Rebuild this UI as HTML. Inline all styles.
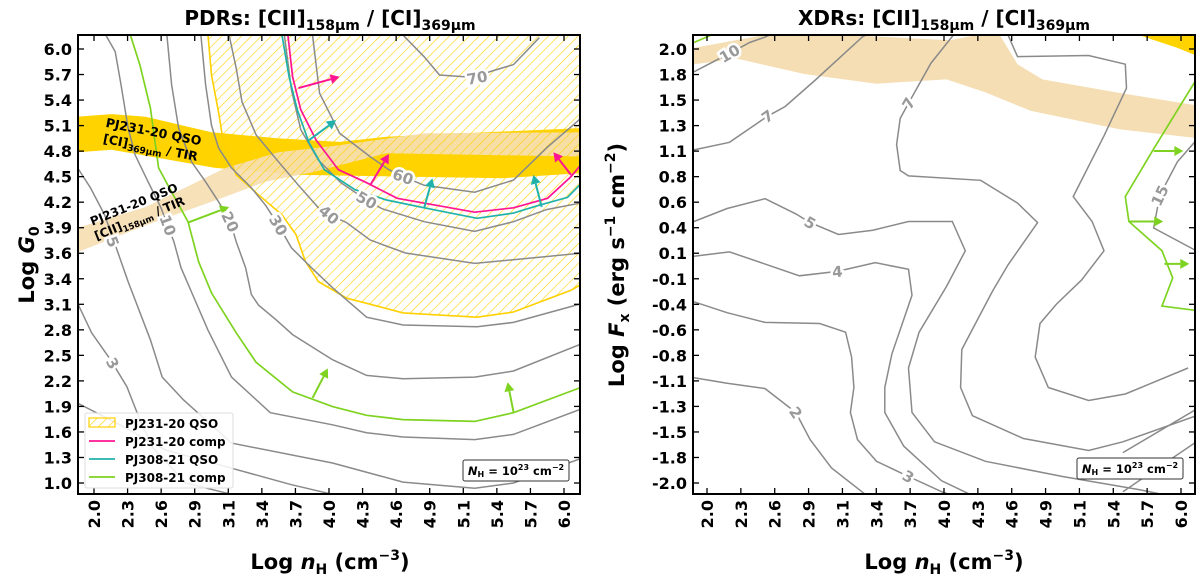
<!DOCTYPE html>
<html><head><meta charset="utf-8">
<style>
html,body{margin:0;padding:0;background:#fff;}
svg{display:block;font-family:"DejaVu Sans","Liberation Sans",sans-serif;font-weight:bold;}
</style></head>
<body>
<svg id="fig" width="1200" height="579" viewBox="0 0 1200 579" xmlns="http://www.w3.org/2000/svg">
<defs>
<pattern id="hatch" patternUnits="userSpaceOnUse" width="7" height="7" patternTransform="rotate(45)">
<line x1="0" y1="0" x2="0" y2="7" stroke="#FFD000" stroke-width="1.2"/>
</pattern>
<clipPath id="clipL"><rect x="78" y="35" width="502" height="459"/></clipPath>
<clipPath id="clipR"><rect x="693" y="35" width="502" height="459"/></clipPath>
</defs>
<text x="330" y="25" font-size="20" text-anchor="middle">PDRs: [CII]<tspan font-size="14" dy="5">158μm</tspan><tspan dy="-5"> / [CI]</tspan><tspan font-size="14" dy="5">369μm</tspan></text>
<text x="944" y="25" font-size="20" text-anchor="middle">XDRs: [CII]<tspan font-size="14" dy="5">158μm</tspan><tspan dy="-5"> / [CI]</tspan><tspan font-size="14" dy="5">369μm</tspan></text>
<g id="gL" clip-path="url(#clipL)"></g>
<g id="gR" clip-path="url(#clipR)"></g>
<g id="axes"></g>
<text transform="translate(34,265) rotate(-90)" font-size="21" text-anchor="middle">Log <tspan font-style="italic">G</tspan><tspan font-size="14" dy="5">0</tspan></text>
<text x="330" y="569" font-size="21" text-anchor="middle">Log <tspan font-style="italic">n</tspan><tspan font-size="14" dy="5">H</tspan><tspan dy="-5"> (cm</tspan><tspan font-size="14" dy="-9">−3</tspan><tspan dy="9">)</tspan></text>
<text x="944" y="569" font-size="21" text-anchor="middle">Log <tspan font-style="italic">n</tspan><tspan font-size="14" dy="5">H</tspan><tspan dy="-5"> (cm</tspan><tspan font-size="14" dy="-9">−3</tspan><tspan dy="9">)</tspan></text>
<text transform="translate(624,265) rotate(-90)" font-size="21" text-anchor="middle">Log <tspan font-style="italic">F</tspan><tspan font-size="14" dy="5">x</tspan><tspan dy="-5"> (erg s</tspan><tspan font-size="14" dy="-9">−1</tspan><tspan dy="9"> cm</tspan><tspan font-size="14" dy="-9">−2</tspan><tspan dy="9">)</tspan></text>
<g transform="translate(152,140) rotate(11)" font-size="12.5">
<text x="0" y="-4" text-anchor="middle">PJ231-20 QSO</text>
<text x="0" y="12" text-anchor="middle">[CI]<tspan font-size="9" dy="3">369μm</tspan><tspan dy="-3"> / TIR</tspan></text>
</g>
<g transform="translate(137,212) rotate(-22)" font-size="12">
<text x="0" y="-4" text-anchor="middle">PJ231-20 QSO</text>
<text x="0" y="11" text-anchor="middle">[CII]<tspan font-size="8.5" dy="3">158μm</tspan><tspan dy="-3"> / TIR</tspan></text>
</g>
<g>
<rect x="85" y="413" width="148" height="75" fill="#fff" fill-opacity="0.85" stroke="#ddd" stroke-width="1" rx="2"/>
<g><rect x="89" y="418" width="26" height="9" fill="url(#hatch)" stroke="#FFD000" stroke-width="1.2"/><text x="125" y="428" font-size="12">PJ231-20 QSO</text></g>
<g><line x1="89" y1="441" x2="115" y2="441" stroke="#FF1493" stroke-width="1.8"/><text x="125" y="446" font-size="12">PJ231-20 comp</text></g>
<g><line x1="89" y1="459" x2="115" y2="459" stroke="#20B2AA" stroke-width="1.8"/><text x="125" y="464" font-size="12">PJ308-21 QSO</text></g>
<g><line x1="89" y1="477" x2="115" y2="477" stroke="#7ED321" stroke-width="1.8"/><text x="125" y="482" font-size="12">PJ308-21 comp</text></g>
</g>
<g><rect x="463" y="460" width="106" height="21" fill="#fff" stroke="#333" stroke-width="1" rx="2"/><text x="516" y="475" font-size="11.5" text-anchor="middle"><tspan font-style="italic">N</tspan><tspan font-size="8" dy="2">H</tspan><tspan dy="-2"> = 10</tspan><tspan font-size="8" dy="-5">23</tspan><tspan dy="5"> cm</tspan><tspan font-size="8" dy="-5">−2</tspan></text></g>
<g><rect x="1077" y="458" width="106" height="21" fill="#fff" stroke="#333" stroke-width="1" rx="2"/><text x="1130" y="473" font-size="11.5" text-anchor="middle"><tspan font-style="italic">N</tspan><tspan font-size="8" dy="2">H</tspan><tspan dy="-2"> = 10</tspan><tspan font-size="8" dy="-5">23</tspan><tspan dy="5"> cm</tspan><tspan font-size="8" dy="-5">−2</tspan></text></g>
</svg>
<script>
// ---------- data: left (PDR) panel ----------
const xTickLabels = ["2.0","2.3","2.6","2.9","3.1","3.4","3.7","4.0","4.3","4.6","4.9","5.1","5.4","5.7","6.0"];
const yTickLabelsL = ["6.0","5.7","5.4","5.1","4.8","4.5","4.2","3.9","3.6","3.4","3.1","2.8","2.5","2.2","1.9","1.6","1.3","1.0"];
const yTickLabelsR = ["2.0","1.8","1.5","1.3","1.1","0.8","0.6","0.4","0.1","-0.1","-0.4","-0.6","-0.8","-1.1","-1.3","-1.5","-1.8","-2.0"];

const goldBandL = [[1.86,5.22],[2.15,5.25],[2.44,5.22],[3.00,5.04],[3.57,4.97],[4.09,4.93],[4.49,4.99],[6.16,5.09],[6.16,4.57],[5.47,4.51],[3.76,4.55],[3.03,4.63],[2.15,4.84],[1.86,4.81]];
const beigeBandL = [[1.86,3.94],[2.44,4.18],[3.12,4.63],[3.57,4.81],[4.09,4.89],[4.81,5.03],[6.16,5.04],[6.16,4.76],[4.49,4.80],[3.86,4.58],[3.46,4.47],[3.00,4.24],[2.44,3.97],[1.86,3.66]];
const hatchRegion = [[2.97,6.16],[3.00,5.70],[3.06,5.27],[3.10,4.93],[3.21,4.55],[3.40,4.32],[3.60,4.09],[3.72,3.86],[3.80,3.55],[3.91,3.32],[4.15,3.13],[4.32,3.07],[4.63,2.96],[5.26,2.91],[5.57,2.97],[6.06,3.22],[6.16,3.30],[6.16,6.16]];

const c3 = [[1.86,3.07],[1.98,2.73],[2.14,2.42],[2.28,2.11],[2.39,1.73],[2.50,1.41],[2.78,1.00],[3.17,0.87]];
const cLow = [[1.86,1.92],[2.22,1.67],[2.61,1.38],[3.17,1.17],[3.68,0.98],[4.03,0.87]];
const c5 = [[1.86,4.63],[1.97,4.40],[2.09,4.09],[2.21,3.63],[2.29,3.32],[2.35,3.11],[2.48,2.65],[2.58,2.22],[2.76,1.96],[3.17,1.46],[4.03,1.23],[4.63,1.01],[5.24,0.94],[5.57,1.00],[6.16,1.29]];
const c10 = [[2.10,6.16],[2.18,5.97],[2.23,5.59],[2.29,5.09],[2.35,4.78],[2.46,4.47],[2.57,4.17],[2.68,3.78],[2.74,3.48],[2.83,3.20],[2.97,2.76],[3.17,2.22],[3.50,1.81],[4.03,1.67],[4.32,1.58],[4.63,1.53],[5.24,1.50],[5.57,1.56],[6.16,1.86]];
const c20 = [[2.62,6.16],[2.66,5.59],[2.72,5.09],[2.83,4.70],[2.95,4.47],[3.06,4.24],[3.16,4.01],[3.21,3.78],[3.29,3.48],[3.34,3.17],[3.40,3.05],[3.55,2.88],[3.69,2.71],[4.03,2.42],[4.32,2.24],[4.63,2.20],[5.24,2.22],[5.57,2.29],[6.16,2.61]];
const c30 = [[2.91,6.16],[2.95,5.59],[3.00,5.12],[3.06,4.86],[3.17,4.63],[3.34,4.40],[3.46,4.20],[3.57,3.97],[3.68,3.71],[3.85,3.48],[4.03,3.25],[4.32,2.91],[4.63,2.82],[5.26,2.80],[5.57,2.85],[6.16,3.07]];
const c40 = [[3.15,6.16],[3.21,5.78],[3.26,5.39],[3.38,5.01],[3.57,4.70],[3.74,4.43],[3.91,4.17],[4.00,4.09],[4.15,4.00],[4.35,3.80],[4.65,3.65],[5.24,3.53],[5.79,3.60],[6.16,3.65]];
const c50 = [[3.62,6.16],[3.68,5.53],[3.76,5.07],[3.91,4.72],[4.10,4.46],[4.32,4.26],[4.45,4.16],[4.81,4.01],[5.24,3.90],[5.57,4.01],[5.85,4.15],[6.16,4.23]];
const c60 = [[3.86,6.16],[3.92,5.49],[4.09,5.03],[4.35,4.76],[4.51,4.61],[4.63,4.53],[4.81,4.43],[5.24,4.35],[5.57,4.49],[5.86,4.87],[6.16,5.22]];
const c70 = [[4.63,6.16],[4.81,5.91],[4.94,5.70],[5.26,5.67],[5.37,5.74],[5.57,5.82],[5.79,6.13]];
const grayL = [c3,cLow,c5,c10,c20,c30,c40,c50,c60,c70];

const greenL = [[2.31,6.16],[2.39,5.82],[2.48,5.32],[2.55,4.63],[2.63,4.43],[2.80,4.01],[2.89,3.55],[3.00,3.19],[3.21,2.73],[3.38,2.39],[3.69,2.05],[4.03,1.88],[4.32,1.78],[4.63,1.73],[5.24,1.71],[5.57,1.81],[6.16,2.11]];
const tealL = [[3.60,6.16],[3.66,5.68],[3.73,5.30],[3.83,4.92],[3.96,4.61],[4.22,4.38],[4.49,4.26],[4.81,4.17],[5.26,4.05],[5.57,4.11],[5.79,4.20],[6.03,4.29],[6.16,4.47]];
const magentaL = [[3.65,6.16],[3.69,5.68],[3.76,5.30],[3.89,4.95],[4.08,4.61],[4.32,4.46],[4.58,4.28],[5.24,4.12],[5.57,4.17],[5.86,4.28],[6.06,4.53],[6.16,4.69]];
const greenArrowsL = [[[2.80,4.00],[3.15,4.18]],[[3.86,1.98],[3.99,2.32]],[[5.57,1.82],[5.52,2.16]]];
const magentaArrowsL = [[[3.74,5.55],[4.09,5.68]],[[4.35,4.43],[4.51,4.79]],[[6.06,4.55],[5.91,4.81]]];
const tealArrowsL = [[[3.83,4.95],[4.06,5.18]],[[4.81,4.17],[4.88,4.51]],[[5.81,4.18],[5.74,4.55]]];
const labelTextL = ["70","60","50","40","30","20","10","5","3"];
const labelPosL = [[5.26,5.67],[4.63,4.53],[4.32,4.26],[4.00,4.09],[3.57,3.97],[3.16,4.01],[2.63,3.97],[2.16,3.78],[2.16,2.38]];
const labelRotL = [-10,20,30,40,60,65,70,70,60];

// ---------- data: right (XDR) panel ----------
const beigeBandR = [[1.89,2.01],[2.49,2.13],[3.17,2.13],[4.05,2.08],[4.28,2.13],[4.47,2.13],[4.62,1.86],[4.83,1.72],[5.51,1.59],[6.13,1.48],[6.13,1.18],[5.48,1.26],[4.73,1.43],[4.35,1.60],[4.02,1.72],[3.43,1.68],[2.82,1.77],[2.26,1.91],[1.89,1.86]];
const goldCornerR = [[5.64,2.13],[5.97,2.01],[6.13,1.94],[6.13,2.13]];
const r10 = [[1.89,1.79],[2.19,1.96],[2.36,2.06],[2.49,2.11],[2.53,2.13]];
const r7a = [[1.89,1.07],[2.19,1.14],[2.51,1.38],[2.66,1.47],[2.91,1.71],[3.11,1.91],[3.31,2.11],[3.34,2.13]];
const r7b = [[4.08,2.13],[3.89,1.87],[3.70,1.50],[3.63,1.36],[3.60,1.12],[3.63,0.88],[3.70,0.83],[4.31,0.79],[4.62,0.58],[4.79,0.40],[4.54,0.01],[4.41,-0.23],[4.15,-0.77],[4.14,-1.12],[4.24,-1.38],[4.67,-1.59],[5.22,-1.70],[5.51,-1.62],[6.13,-1.38]];
const rBig = [[4.54,2.13],[4.62,1.93],[5.22,1.94],[5.53,1.86],[5.54,1.64],[5.35,1.20],[5.09,0.64],[5.25,0.41],[5.35,0.14],[5.16,-0.13],[4.95,-0.35],[4.81,-0.53],[4.77,-0.84],[4.88,-1.12],[5.22,-1.24],[5.53,-1.18],[6.06,-0.94]];
const r5 = [[1.89,0.41],[2.17,0.53],[2.49,0.62],[2.75,0.48],[2.87,0.40],[3.11,0.29],[3.40,0.33],[3.70,0.41],[4.07,0.41],[4.18,0.14],[4.02,-0.19],[3.79,-0.61],[3.70,-0.94],[3.73,-1.35],[3.92,-1.62],[4.35,-1.80],[5.00,-1.94],[5.64,-2.06],[5.82,-2.10]];
const r4 = [[1.89,0.09],[2.19,0.13],[2.78,-0.09],[3.10,-0.05],[3.42,0.03],[3.70,-0.03],[3.73,-0.27],[3.56,-0.81],[3.50,-1.12],[3.50,-1.35],[3.66,-1.66],[3.98,-1.98],[4.21,-2.10]];
const r3 = [[1.89,-0.33],[2.17,-0.43],[2.49,-0.52],[2.95,-0.53],[3.17,-0.61],[3.22,-0.84],[3.24,-1.12],[3.21,-1.35],[3.27,-1.60],[3.43,-1.80],[3.70,-1.94],[3.98,-2.08],[4.03,-2.10]];
const r2 = [[1.89,-1.03],[2.17,-1.08],[2.49,-1.13],[2.75,-1.35],[2.87,-1.60],[3.05,-1.86],[3.33,-2.10]];
const r15 = [[6.13,1.16],[5.97,0.96],[5.82,0.65],[5.77,0.35],[6.13,0.14]];
const rCornerA = [[6.13,-1.32],[5.51,-1.72]];
const rCornerB = [[6.13,-1.62],[5.51,-2.08]];
const grayR = [r10,r7a,r7b,rBig,r5,r4,r3,r2,r15,rCornerA,rCornerB];
const greenR = [[6.13,1.72],[5.77,1.08],[5.53,0.64],[5.56,0.41],[5.84,0.14],[5.93,-0.11],[5.84,-0.37],[6.13,-0.41]];
const greenRTop = [[1.89,2.06],[2.04,2.13]];
const greenArrowsR = [[[5.77,1.06],[6.02,1.06]],[[5.56,0.41],[5.85,0.41]],[[5.86,0.02],[6.07,0.02]]];
const labelTextR = ["10","7","7","5","4","3","2","15"];
const labelPosR = [[2.19,1.96],[2.51,1.38],[3.70,1.50],[2.87,0.40],[3.10,-0.05],[3.70,-1.94],[2.75,-1.35],[5.82,0.65]];
const labelRotR = [-30,-35,-60,30,-5,30,55,-65];

// ---------- axis functions ----------
const NS = "http://www.w3.org/2000/svg";
const xL = v => 94 + (v - 2) * 117.5;
const yL = v => 49 + (6 - v) * 86.8;
const xR = v => 707 + (v - 2) * 118.5;
const yR = v => 49 + (2 - v) * 108.5;
const tickY = i => 49 + i * 25.53;

function mk(tag, parent, attrs) {
  const e = document.createElementNS(NS, tag);
  for (const k in attrs) e.setAttribute(k, attrs[k]);
  parent.appendChild(e);
  return e;
}
function pts(arr, fx, fy) { return arr.map(p => fx(p[0]).toFixed(1) + "," + fy(p[1]).toFixed(1)).join(" "); }

const gL = document.getElementById("gL");
const gR = document.getElementById("gR");
const axes = document.getElementById("axes");

function arrow(g, a, fx, fy, color, name) {
  const x1 = fx(a[0][0]), y1 = fy(a[0][1]), x2 = fx(a[1][0]), y2 = fy(a[1][1]);
  const ang = Math.atan2(y2 - y1, x2 - x1), L = 9, W = 5;
  const bx = x2 - L * Math.cos(ang), by = y2 - L * Math.sin(ang);
  const ln = mk("line", g, {x1: x1, y1: y1, x2: bx, y2: by, stroke: color, "stroke-width": 2});
  
  
  const hd = mk("polygon", g, {points: `${x2},${y2} ${bx - W*Math.sin(ang)},${by + W*Math.cos(ang)} ${bx + W*Math.sin(ang)},${by - W*Math.cos(ang)}`, fill: color});
  
  
}
function label(g, txt, p, rot, fx, fy, name) {
  const t = mk("text", g, {x: fx(p[0]), y: fy(p[1]) + 5.5, "font-size": 15, fill: "#999", "text-anchor": "middle", stroke: "#fff", "stroke-width": 5, "paint-order": "stroke", transform: `rotate(${rot} ${fx(p[0])} ${fy(p[1])})`});
  t.textContent = txt;
  
  
}

// Left panel
let e;
e = mk("polygon", gL, {points: pts(goldBandL, xL, yL), fill: "#FFD300"});


e = mk("polygon", gL, {points: pts(beigeBandL, xL, yL), fill: "#F5DEB3", "fill-opacity": 0.92});


e = mk("polygon", gL, {points: pts(hatchRegion, xL, yL), fill: "url(#hatch)", stroke: "#FFD000", "stroke-width": 1.6});


grayL.forEach((c, i) => {
  const p = mk("polyline", gL, {points: pts(c, xL, yL), fill: "none", stroke: "#8a8a8a", "stroke-width": 1.5});
  
  
});
e = mk("polyline", gL, {points: pts(greenL, xL, yL), fill: "none", stroke: "#7ED321", "stroke-width": 1.7});


e = mk("polyline", gL, {points: pts(tealL, xL, yL), fill: "none", stroke: "#20B2AA", "stroke-width": 1.7});


e = mk("polyline", gL, {points: pts(magentaL, xL, yL), fill: "none", stroke: "#FF1493", "stroke-width": 1.7});


greenArrowsL.forEach(a => arrow(gL, a, xL, yL, "#7ED321", "pj308-comp-arrow"));
magentaArrowsL.forEach(a => arrow(gL, a, xL, yL, "#FF1493", "pj231-comp-arrow"));
tealArrowsL.forEach(a => arrow(gL, a, xL, yL, "#20B2AA", "pj308-qso-arrow"));
labelTextL.forEach((t, i) => label(gL, t, labelPosL[i], labelRotL[i], xL, yL, "contour-label"));

// Right panel
e = mk("polygon", gR, {points: pts(beigeBandR, xR, yR), fill: "#F5DEB3"});


e = mk("polygon", gR, {points: pts(goldCornerR, xR, yR), fill: "#FFD300"});


grayR.forEach(c => {
  const p = mk("polyline", gR, {points: pts(c, xR, yR), fill: "none", stroke: "#8a8a8a", "stroke-width": 1.5});
  
  
});
e = mk("polyline", gR, {points: pts(greenR, xR, yR), fill: "none", stroke: "#7ED321", "stroke-width": 1.7});


e = mk("polyline", gR, {points: pts(greenRTop, xR, yR), fill: "none", stroke: "#7ED321", "stroke-width": 1.7});


greenArrowsR.forEach(a => arrow(gR, a, xR, yR, "#7ED321", "pj308-comp-arrow-xdr"));
labelTextR.forEach((t, i) => label(gR, t, labelPosR[i], labelRotR[i], xR, yR, "contour-label"));

// Axes frames, ticks, labels
function frame(x0, name, fx, ylabels) {
  const r = mk("rect", axes, {x: x0, y: 35, width: 502, height: 459, fill: "none", stroke: "#000", "stroke-width": 2});
  
  
  xTickLabels.forEach((lab, i) => {
    const x = fx(2 + i * 4/14);
    const t1 = mk("line", axes, {x1: x, y1: 494, x2: x, y2: 488, stroke: "#000", "stroke-width": 1.3});
    
    
    const t2 = mk("line", axes, {x1: x, y1: 35, x2: x, y2: 41, stroke: "#000", "stroke-width": 1.3});
    
    
    const tx = mk("text", axes, {x: 0, y: 0, "font-size": 16, "text-anchor": "end", transform: `translate(${x + 6},500) rotate(-90)`});
    tx.textContent = lab;
    
    
  });
  ylabels.forEach((lab, i) => {
    const y = tickY(i);
    const t1 = mk("line", axes, {x1: x0, y1: y, x2: x0 + 6, y2: y, stroke: "#000", "stroke-width": 1.3});
    
    
    const t2 = mk("line", axes, {x1: x0 + 502, y1: y, x2: x0 + 496, y2: y, stroke: "#000", "stroke-width": 1.3});
    
    
    const tx = mk("text", axes, {x: x0 - 6, y: y + 6, "font-size": 16, "text-anchor": "end"});
    tx.textContent = lab;
    
    
  });
}
frame(78, "left-plot", xL, yTickLabelsL);
frame(693, "right-plot", xR, yTickLabelsR);
</script>
</body></html>
